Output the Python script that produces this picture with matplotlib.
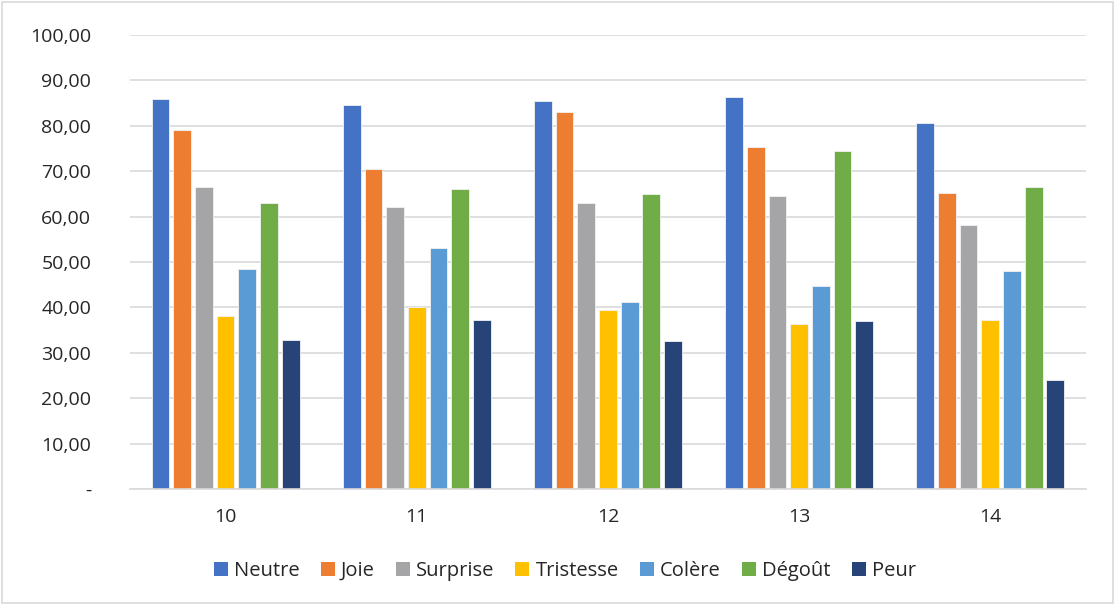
import matplotlib
matplotlib.use("Agg")
import matplotlib.pyplot as plt
from matplotlib.patches import Rectangle
from matplotlib.ticker import FuncFormatter
import numpy as np

plt.rcParams['font.family'] = ['Open Sans', 'DejaVu Sans']

categories = ["10", "11", "12", "13", "14"]
series_names = ["Neutre", "Joie", "Surprise", "Tristesse", "Colère", "Dégoût", "Peur"]
neutre = [85.9, 84.7, 85.4, 86.3, 80.6]
joie = [79.2, 70.4, 83.0, 75.3, 65.2]
surprise = [66.5, 62.1, 63.0, 64.5, 58.1]
tristesse = [38.1, 40.1, 39.5, 36.3, 37.3]
colere = [48.4, 53.1, 41.3, 44.8, 48.0]
degout = [62.9, 66.0, 64.9, 74.5, 66.6]
peur = [32.9, 37.3, 32.7, 37.0, 24.1]
yticks = [0, 10, 20, 30, 40, 50, 60, 70, 80, 90, 100]

series = [neutre, joie, surprise, tristesse, colere, degout, peur]
colors = ["#4472C4", "#ED7D31", "#A5A5A8", "#FFC000", "#5B9BD5", "#70AD47", "#264478"]

fig = plt.figure(figsize=(11.16, 6.05), dpi=100)
fig.patch.set_facecolor("white")
fig.add_artist(Rectangle((0.002, 0.003), 0.995, 0.993, transform=fig.transFigure,
                         fill=False, edgecolor="#D9D9D9", linewidth=1.2))

ax = fig.add_axes([0.1165, 0.1917, 0.8565, 0.7503])
x = np.arange(len(categories))
slot = 0.1134
n = len(series)
for i, (vals, col, name) in enumerate(zip(series, colors, series_names)):
    offs = (i - (n - 1) / 2) * slot
    ax.bar(x + offs, vals, width=0.093, color=col, edgecolor="#F2F2F2",
           linewidth=0.6, label=name, zorder=3)

ax.set_xlim(-0.5, len(categories) - 0.5)
ax.set_ylim(0, 100)
ax.set_yticks(yticks)


def fmt(v, pos):
    if v == 0:
        return "-"
    return f"{v:.2f}".replace(".", ",")


ax.yaxis.set_major_formatter(FuncFormatter(fmt))
ax.set_xticks(x)
ax.set_xticklabels(categories)
ax.grid(axis="y", color="#D9D9D9", linewidth=1.2, zorder=0)
for s in ["top", "right", "left"]:
    ax.spines[s].set_visible(False)
ax.spines["bottom"].set_color("#D9D9D9")
ax.spines["bottom"].set_linewidth(1.2)
ax.spines["bottom"].set_zorder(4)
ax.tick_params(axis="both", length=0, labelsize=14, colors="#262626")
ax.tick_params(axis="y", pad=28)
ax.tick_params(axis="x", pad=14)
for lab in ax.get_yticklabels():
    lab.set_horizontalalignment("right")

handles = [Rectangle((0, 0), 1, 1, facecolor=c, edgecolor="none") for c in colors]
leg = fig.legend(handles, series_names, loc="center", bbox_to_anchor=(0.506, 0.056),
                 ncol=7, frameon=False, fontsize=14.5, handlelength=0.7,
                 handleheight=0.7, handletextpad=0.3, columnspacing=1.05)
for t in leg.get_texts():
    t.set_color("#262626")

fig.savefig("out.png", dpi=100)
